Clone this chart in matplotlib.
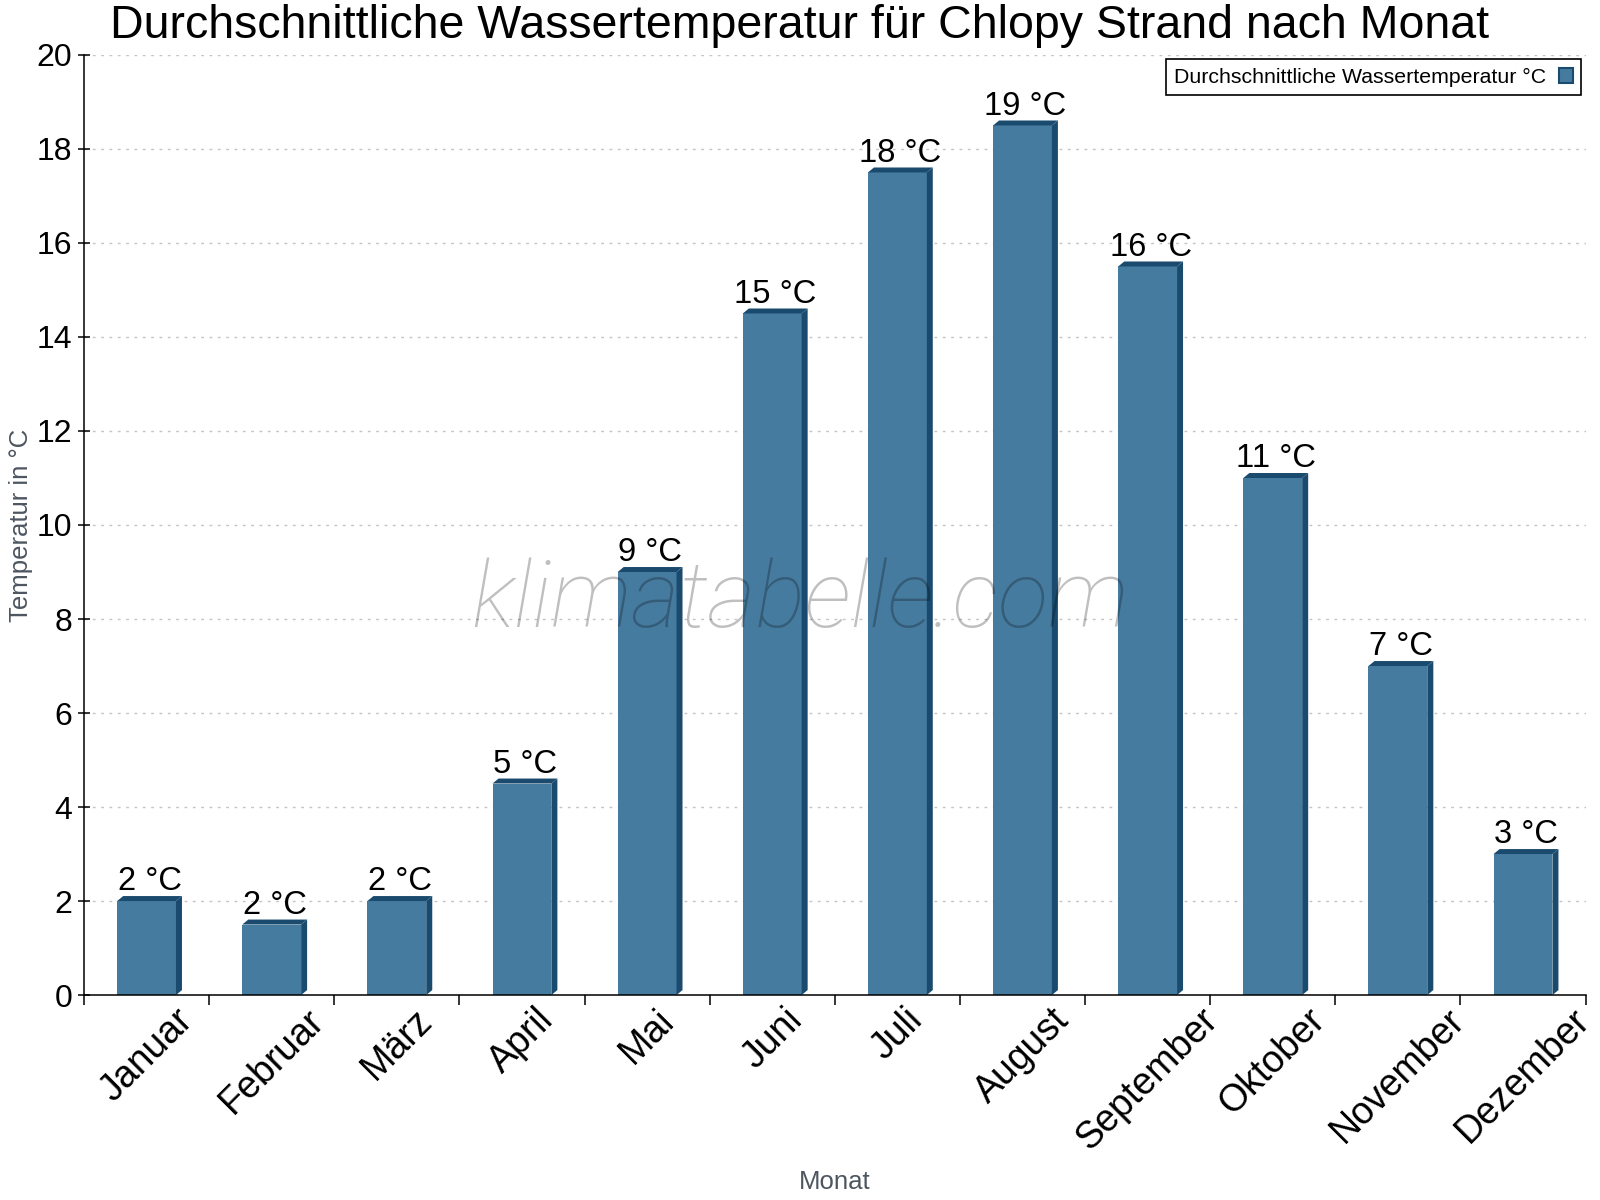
import numpy as np
import matplotlib.pyplot as plt
from matplotlib.patches import Patch

plt.rcParams['font.family'] = ['Liberation Sans', 'DejaVu Sans']

months = ["Januar", "Februar", "März", "April", "Mai", "Juni", "Juli",
          "August", "September", "Oktober", "November", "Dezember"]
water_temp = [2, 1.5, 2, 4.5, 9, 14.5, 17.5, 18.5, 15.5, 11, 7, 3]
value_labels = ["2 °C", "2 °C", "2 °C", "5 °C", "9 °C", "15 °C", "18 °C",
                "19 °C", "16 °C", "11 °C", "7 °C", "3 °C"]
y_ticks = np.arange(0, 21, 2)

front_col = '#467ba0'
side_col = '#1a4b6e'

fig = plt.figure(figsize=(16, 12), dpi=100)
ax = fig.add_axes([0.0525, 0.1708, 0.9385, 0.7834])

x = np.arange(len(months))
bars = ax.bar(x, water_temp, width=0.47, color=front_col, linewidth=0, zorder=2)

# fake 3d: side strip and top strip
dx, dy = 0.048, 0.106
for rect in bars:
    x0 = rect.get_x()
    x1 = x0 + rect.get_width()
    h = rect.get_height()
    ax.fill([x1, x1 + dx, x1 + dx, x1], [0, dy, h + dy, h], color=side_col, lw=0, zorder=2)
    ax.fill([x0, x0 + dx, x1 + dx, x1], [h, h + dy, h + dy, h], color=side_col, lw=0, zorder=2)

for rect, lab in zip(bars, value_labels):
    ax.annotate(lab, (rect.get_x() + rect.get_width() / 2 + dx / 2, rect.get_height() + dy),
                xytext=(0, 4), textcoords='offset points', ha='center', va='baseline',
                fontsize=23.5, color='black', zorder=4)

ax.set_xlim(-0.5, 11.5)
ax.set_ylim(0, 20)
ax.set_yticks(y_ticks)
ax.set_xticks(np.arange(-0.5, 12, 1))
ax.set_xticklabels([])
ax.set_xticks(x, labels=months, minor=True)

ax.tick_params(axis='y', labelsize=23, direction='inout', length=9, width=1.1, pad=4)
ax.tick_params(axis='x', which='major', direction='out', length=7, width=1.1)
ax.tick_params(axis='x', which='minor', length=0, pad=5, labelsize=27)
for lbl in ax.get_xticklabels(minor=True):
    lbl.set_rotation(45)
    lbl.set_ha('center')
    lbl.set_va('top')

ax.spines['top'].set_visible(False)
ax.spines['right'].set_visible(False)
ax.spines['left'].set_linewidth(1.1)
ax.spines['bottom'].set_linewidth(1.1)
ax.set_axisbelow(True)
ax.yaxis.grid(True, linestyle=(0, (2, 4)), color='#c4c4c4', linewidth=1)

ax.set_xlabel("Monat", fontsize=18.5, color='#4d5660', va='top')
ax.xaxis.set_label_coords(0.5, -0.186)
ax.set_ylabel("Temperatur in °C", fontsize=18.5, color='#4d5660', va='center')
ax.yaxis.set_label_coords(-0.042, 0.5)

fig.text(0.5, 1 - 38 / 1200, "Durchschnittliche Wassertemperatur für Chlopy Strand nach Monat",
         ha='center', va='baseline', fontsize=33.5)

fig.text(0.5, 1 - 627 / 1200, "klimatabelle.com", ha='center', va='baseline',
         fontsize=67, family='Roboto', style='italic', weight='light',
         color='black', alpha=0.25, zorder=5)

handle = Patch(facecolor=front_col, edgecolor=side_col, linewidth=1.5)
leg = ax.legend([handle], ["Durchschnittliche Wassertemperatur °C"], loc='upper right',
                bbox_to_anchor=(1.0, 1.0), borderaxespad=0.2, fontsize=15.3,
                markerfirst=False, handlelength=0.65, handleheight=0.75,
                handletextpad=0.6, borderpad=0.4, fancybox=False, framealpha=1)
leg.get_frame().set_edgecolor('black')
leg.get_frame().set_linewidth(1.2)

fig.savefig('out.png', dpi=100)
